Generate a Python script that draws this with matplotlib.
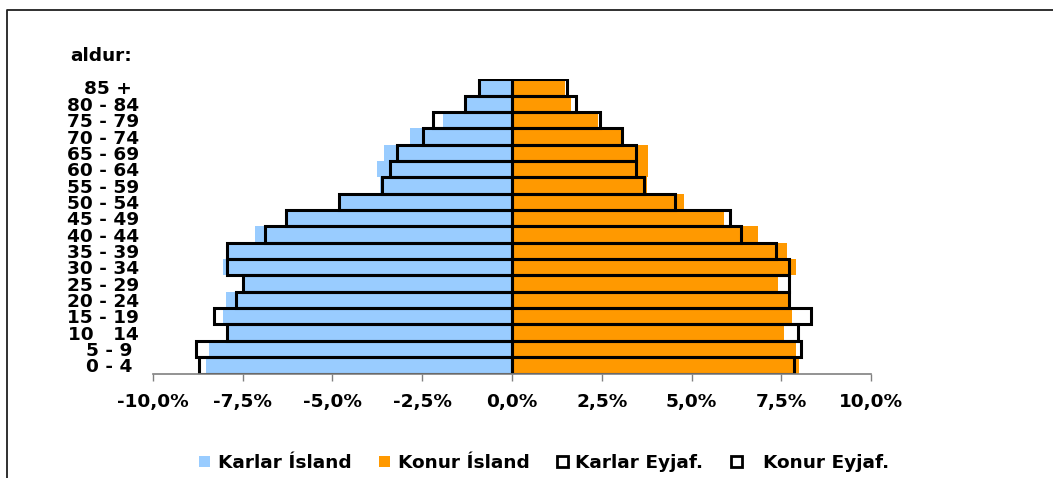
import numpy as np
import matplotlib
matplotlib.use('Agg')
import matplotlib.pyplot as plt
from matplotlib.patches import Patch
from matplotlib.lines import Line2D

# age groups, bottom to top
ages = ['0 - 4 ', '5 - 9 ', '10   14', '15 - 19', '20 - 24', '25 - 29', '30 - 34',
        '35 - 39', '40 - 44', '45 - 49', '50 - 54', '55 - 59', '60 - 64', '65 - 69',
        '70 - 74', '75 - 79', '80 - 84', '85 + ']

# percent of population
karlar_isl = [8.52, 8.43, 7.89, 8.04, 7.95, 7.45, 8.03, 7.96, 7.15, 6.33, 4.85, 3.67,
              3.76, 3.56, 2.83, 1.93, 1.28, 0.91]
konur_isl = [7.98, 7.91, 7.58, 7.78, 7.67, 7.39, 7.91, 7.65, 6.85, 5.89, 4.78, 3.76,
             3.79, 3.79, 3.06, 2.40, 1.65, 1.48]
karlar_eyj = [8.72, 8.80, 7.92, 8.28, 7.68, 7.50, 7.92, 7.92, 6.88, 6.30, 4.82, 3.62,
              3.40, 3.20, 2.48, 2.21, 1.32, 0.93]
konur_eyj = [7.85, 8.03, 7.97, 8.33, 7.72, 7.72, 7.72, 7.34, 6.37, 6.08, 4.55, 3.67,
             3.46, 3.46, 3.05, 2.44, 1.77, 1.54]

xticks = [-10, -7.5, -5, -2.5, 0, 2.5, 5, 7.5, 10]
xlabels = ['-10,0%', '-7,5%', '-5,0%', '-2,5%', '0,0%', '2,5%', '5,0%', '7,5%', '10,0%']

plt.rcParams['font.family'] = 'DejaVu Sans'
plt.rcParams['font.weight'] = 'bold'
fs = 13.3

W, H = 1053, 478
fig = plt.figure(figsize=(W / 100, H / 100), dpi=100)
ax = fig.add_axes([152.7 / W, (H - 373.5) / H, 718.6 / W, 294.2 / H])

y = np.arange(len(ages))
blue = '#99CCFF'
orange = '#FF9900'

ax.barh(y, -np.array(karlar_isl), height=1.0, color=blue, edgecolor='none', zorder=2)
ax.barh(y, konur_isl, height=1.0, color=orange, edgecolor='none', zorder=2)
ax.barh(y, -np.array(karlar_eyj), height=1.0, facecolor='none', edgecolor='black',
        linewidth=2.2, zorder=3)
ax.barh(y, konur_eyj, height=1.0, facecolor='none', edgecolor='black',
        linewidth=2.2, zorder=3)

ax.set_xlim(-10, 10)
ax.set_ylim(-0.5, len(ages) - 0.5)
ax.set_xticks(xticks)
ax.set_xticklabels(xlabels, fontsize=fs, fontweight='bold')
ax.set_yticks(y)
ax.set_yticklabels(ages, fontsize=fs, fontweight='bold')
ax.tick_params(axis='y', length=0, pad=10)
ax.tick_params(axis='x', length=5, width=1, color='#808080', direction='out', pad=9)
for s in ['top', 'right', 'left']:
    ax.spines[s].set_visible(False)
ax.spines['bottom'].set_color('#808080')
ax.spines['bottom'].set_linewidth(1.2)
ax.spines['bottom'].set_zorder(4)

fig.text(70 / W, (H - 56) / H, 'aldur:', fontsize=fs, fontweight='bold', va='center', ha='left')

handles = [Patch(facecolor=blue, edgecolor='none'),
           Patch(facecolor=orange, edgecolor='none'),
           Patch(facecolor='white', edgecolor='black', linewidth=2),
           Patch(facecolor='white', edgecolor='black', linewidth=2)]
labels = ['Karlar Ísland', 'Konur Ísland', 'Karlar Eyjaf.', '  Konur Eyjaf.']
fig.legend(handles, labels, loc='center', bbox_to_anchor=(544 / W, (H - 463) / H), ncol=4,
           frameon=False, prop={'size': fs, 'weight': 'bold'}, handlelength=0.6,
           handleheight=0.6, handletextpad=0.4, columnspacing=1.5, borderpad=0)

# chart frame (left and top edges visible)
fig.add_artist(Line2D([7 / W, 7 / W, 1.0], [0.0, (H - 10) / H, (H - 10) / H],
                      transform=fig.transFigure, color='#202020', linewidth=1.3))

fig.savefig('out.png', dpi=100)
